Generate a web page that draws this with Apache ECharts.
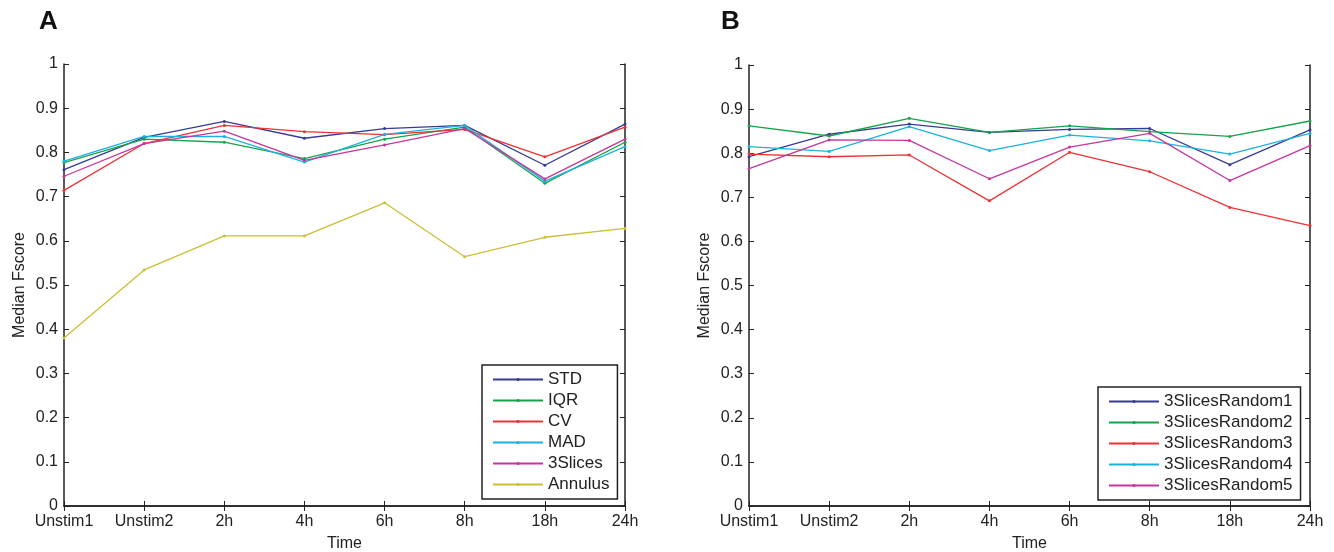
<!DOCTYPE html>
<html>
<head>
<meta charset="utf-8">
<script src="https://cdn.jsdelivr.net/npm/echarts@6/dist/echarts.min.js"></script>
<style>
  html, body { margin: 0; padding: 0; background: #fff; }
  #chart { width: 1334px; height: 552px; }
</style>
</head>
<body>
<div id="chart"></div>
<script>
// time points shared by both panels
var timePoints = ['Unstim1', 'Unstim2', '2h', '4h', '6h', '8h', '18h', '24h'];

// panel A
var namesA = ['STD', 'IQR', 'CV', 'MAD', '3Slices', 'Annulus'];
var stdA     = [0.761, 0.834, 0.870, 0.832, 0.854, 0.861, 0.771, 0.864];
var iqrA     = [0.777, 0.830, 0.823, 0.786, 0.830, 0.857, 0.730, 0.823];
var cvA      = [0.714, 0.820, 0.861, 0.847, 0.840, 0.852, 0.790, 0.857];
var madA     = [0.780, 0.836, 0.836, 0.778, 0.841, 0.861, 0.735, 0.813];
var slicesA  = [0.746, 0.820, 0.848, 0.782, 0.817, 0.854, 0.740, 0.830];
var annulusA = [0.380, 0.534, 0.611, 0.611, 0.686, 0.564, 0.608, 0.628];

// panel B
var namesB = ['3SlicesRandom1', '3SlicesRandom2', '3SlicesRandom3', '3SlicesRandom4', '3SlicesRandom5'];
var rand1 = [0.792, 0.843, 0.866, 0.847, 0.854, 0.856, 0.774, 0.853];
var rand2 = [0.862, 0.839, 0.879, 0.847, 0.862, 0.849, 0.838, 0.873];
var rand3 = [0.798, 0.792, 0.796, 0.692, 0.802, 0.758, 0.677, 0.636];
var rand4 = [0.815, 0.804, 0.860, 0.806, 0.841, 0.828, 0.798, 0.845];
var rand5 = [0.765, 0.830, 0.829, 0.742, 0.814, 0.845, 0.738, 0.817];

var colors = ['#363b97', '#17a24b', '#ee3134', '#1cb2e0', '#c7359e', '#cbbf35'];
var font = "'Liberation Sans', Arial, sans-serif";

var chart = echarts.init(document.getElementById('chart'), null, { renderer: 'canvas' });

function mainX(gi) {
	return {
		type: 'category', gridIndex: gi, data: timePoints, boundaryGap: false,
		name: 'Time', nameLocation: 'middle', nameGap: 30,
		nameTextStyle: { color: '#222', fontSize: 16, fontFamily: font },
		axisLine: { lineStyle: { color: '#222', width: 1.5 } },
		axisTick: { inside: true, length: 5, lineStyle: { color: '#222' } },
		axisLabel: { color: '#222', fontSize: 16, fontFamily: font, margin: 8 },
		splitLine: { show: false }
	};
}
function mirrorX(gi) {
	return {
		type: 'category', gridIndex: gi, data: timePoints, boundaryGap: false, position: 'top',
		axisLine: { lineStyle: { color: '#222', width: 1.5 } },
		axisTick: { inside: true, length: 5, lineStyle: { color: '#222' } },
		axisLabel: { show: false }, splitLine: { show: false }
	};
}
function mainY(gi) {
	return {
		type: 'value', gridIndex: gi, min: 0, max: 1, interval: 0.1,
		name: 'Median Fscore', nameLocation: 'middle', nameGap: 36,
		nameTextStyle: { color: '#222', fontSize: 16, fontFamily: font },
		axisLine: { show: true, lineStyle: { color: '#222', width: 1.5 } },
		axisTick: { show: true, inside: true, length: 5, lineStyle: { color: '#222' } },
		axisLabel: { color: '#222', fontSize: 16, fontFamily: font, margin: 6,
			formatter: function (v) { return v === 0 || v === 1 ? String(v) : v.toFixed(1); } },
		splitLine: { show: false }
	};
}
function mirrorY(gi) {
	return {
		type: 'value', gridIndex: gi, min: 0, max: 1, interval: 0.1, position: 'right',
		axisLine: { show: true, lineStyle: { color: '#222', width: 1.5 } },
		axisTick: { show: true, inside: true, length: 5, lineStyle: { color: '#222' } },
		axisLabel: { show: false }, splitLine: { show: false }
	};
}
function line(name, data, xi, yi, color) {
	return {
		name: name, type: 'line', data: data, xAxisIndex: xi, yAxisIndex: yi,
		symbol: 'circle', symbolSize: 3, showSymbol: true,
		lineStyle: { width: 1.3, color: color }, itemStyle: { color: color },
		emphasis: { disabled: true }
	};
}
function legendBox(names, left, top) {
	return {
		data: names, orient: 'vertical', left: left, top: top,
		itemWidth: 50, itemHeight: 4, itemGap: 4,
		padding: [6, 8, 6, 10],
		borderColor: '#222', borderWidth: 1.5, backgroundColor: '#fff',
		textStyle: { color: '#222', fontSize: 17, fontFamily: font }
	};
}

var seriesList = [];
[stdA, iqrA, cvA, madA, slicesA, annulusA].forEach(function (d, i) {
	seriesList.push(line(namesA[i], d, 0, 0, colors[i]));
});
[rand1, rand2, rand3, rand4, rand5].forEach(function (d, i) {
	seriesList.push(line(namesB[i], d, 2, 2, colors[i]));
});

chart.setOption({
	animation: false,
	backgroundColor: '#fff',
	title: [
		{ text: 'A', left: 34, top: 4, textStyle: { fontSize: 26, fontWeight: 'bold', color: '#111', fontFamily: font } },
		{ text: 'B', left: 716, top: 4, textStyle: { fontSize: 26, fontWeight: 'bold', color: '#111', fontFamily: font } }
	],
	grid: [
		{ left: 64, top: 64, width: 561, height: 442, outerBoundsMode: 'none' },
		{ left: 749, top: 65, width: 561, height: 441, outerBoundsMode: 'none' }
	],
	xAxis: [mainX(0), mirrorX(0), mainX(1), mirrorX(1)],
	yAxis: [mainY(0), mirrorY(0), mainY(1), mirrorY(1)],
	legend: [legendBox(namesA, 482, 365), legendBox(namesB, 1098, 387)],
	series: seriesList
});
</script>
</body>
</html>
